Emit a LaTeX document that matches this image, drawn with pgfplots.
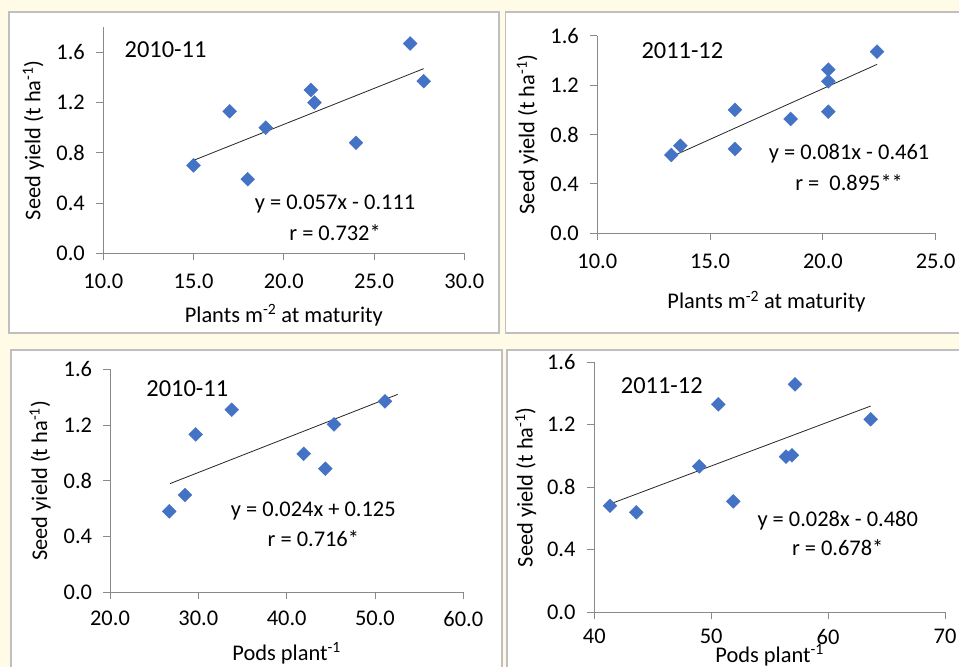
\documentclass[border=0pt]{standalone}
\usepackage{fontspec}
\setmainfont{Carlito}
\usepackage{pgfplots}
\pgfplotsset{compat=1.18}
\definecolor{bg}{RGB}{255,251,230}
\definecolor{framec}{RGB}{191,191,191}
\definecolor{axgray}{RGB}{137,137,137}
\definecolor{mblue}{RGB}{68,114,196}
\newcommand{\fs}{\fontsize{22.5}{27}\selectfont}
\newcommand{\ft}{\fontsize{24.5}{29}\selectfont}
\pgfplotsset{
  panel/.style={
    scale only axis,
    anchor=south west,
    axis x line=bottom, axis y line=left,
    axis line style={-, draw=axgray, line width=0.9bp},
    every tick/.style={draw=axgray, line width=0.9bp},
    tick align=outside, major tick length=7bp,
    ymin=0, ytick={0,0.4,0.8,1.2,1.6},
    yticklabels={0.0,0.4,0.8,1.2,1.6},
    tick label style={font=\fs},
    xticklabel shift=10.5bp,
    yticklabel shift=8bp,
    ylabel={Seed yield (t ha\textsuperscript{-1})},
    every axis y label/.style={rotate=90, anchor=center, font=\fs},
    every axis x label/.style={anchor=center, font=\fs},
    clip=false,
  },
  pts/.style={only marks, mark=square*, mark size=4.9bp,
    mark options={rotate=45, fill=mblue, draw=mblue}},
  trend/.style={no marks, draw=black!85, line width=0.8bp},
}
\begin{document}
\begin{tikzpicture}
\path[use as bounding box] (0,0) rectangle (959bp,-667bp);
\clip (0,0) rectangle (959bp,-667bp);
\fill[bg] (0,0) rectangle (959bp,-667bp);
\filldraw[fill=white, draw=framec, line width=1.5bp] (9bp,-12bp) rectangle (499bp,-333bp);
\filldraw[fill=white, draw=framec, line width=1.5bp] (505.5bp,-12bp) rectangle (975bp,-333bp);
\filldraw[fill=white, draw=framec, line width=1.5bp] (11bp,-350bp) rectangle (502bp,-690bp);
\filldraw[fill=white, draw=framec, line width=1.5bp] (507bp,-350bp) rectangle (975bp,-690bp);

% Panel 1
\begin{axis}[panel, at={(103.3bp,-253.3bp)}, width=361bp, height=226.1bp,
  xmin=10, xmax=30, ymax=1.8,
  xtick={10,15,20,25,30}, xticklabels={10.0,15.0,20.0,25.0,30.0},
  xlabel={Plants m\textsuperscript{-2} at maturity},
  xlabel style={at={(axis description cs:0.5,-0.2729)}},
  ylabel style={at={(axis description cs:-0.1939,0.5)}}]
\addplot[pts] coordinates {(15.0,0.70) (17.0,1.13) (18.0,0.59) (19.0,1.00) (21.5,1.30) (21.7,1.20) (24.0,0.88) (27.0,1.67) (27.75,1.37)};
\addplot[trend] coordinates {(15.0,0.74) (27.75,1.47)};
\node[font=\ft] at (axis cs:13.45,1.619) {2010-11};
\node[font=\fs] at (axis cs:22.84,0.392) {y = 0.057x - 0.111};
\node[font=\fs] at (axis cs:22.84,0.162) {r = 0.732*};
\end{axis}

% Panel 2
\begin{axis}[panel, at={(597.3bp,-233.3bp)}, width=338.4bp, height=197.6bp,
  xmin=10, xmax=25, ymax=1.6,
  xtick={10,15,20,25}, xticklabels={10.0,15.0,20.0,25.0},
  xlabel={Plants m\textsuperscript{-2} at maturity},
  xlabel style={at={(axis description cs:0.5,-0.3462)}},
  ylabel style={at={(axis description cs:-0.2069,0.5)}}]
\addplot[pts] coordinates {(13.28,0.634) (13.68,0.709) (16.10,1.00) (16.10,0.683) (18.57,0.926) (20.24,1.325) (20.24,1.231) (20.24,0.985) (22.40,1.471)};
\addplot[trend] coordinates {(13.28,0.62) (22.4,1.368)};
\node[font=\ft] at (axis cs:13.77,1.479) {2011-12};
\node[font=\fs] at (axis cs:21.16,0.642) {y = 0.081x - 0.461};
\node[font=\fs] at (axis cs:21.16,0.41) {r =\ \ 0.895**};
\end{axis}

% Panel 3
\begin{axis}[panel, at={(110bp,-592.3bp)}, width=353.3bp, height=223bp,
  xmin=20, xmax=60, ymax=1.6,
  xtick={20,30,40,50,60}, xticklabels={20.0,30.0,40.0,50.0,60.0},
  xticklabel shift=8.2bp, yticklabel shift=7.4bp,
  xlabel={Pods plant\textsuperscript{-1}},
  xlabel style={at={(axis description cs:0.5,-0.2735)}},
  ylabel style={at={(axis description cs:-0.1981,0.5)}}]
\addplot[pts] coordinates {(26.71,0.581) (28.49,0.698) (29.70,1.133) (33.78,1.310) (41.93,0.994) (44.38,0.887) (45.36,1.205) (51.13,1.370)};
\addplot[trend] coordinates {(26.8,0.78) (52.57,1.42)};
\node[font=\ft] at (axis cs:28.75,1.463) {2010-11};
\node[font=\fs] at (axis cs:43.02,0.581) {y = 0.024x + 0.125};
\node[font=\fs] at (axis cs:43.02,0.387) {r = 0.716*};
\end{axis}

% Panel 4
\begin{axis}[panel, at={(594.3bp,-612.3bp)}, width=350.7bp, height=250bp,
  xmin=40, xmax=70, ymax=1.6,
  xtick={40,50,60,70}, xticklabels={40,50,60,70},
  xticklabel shift=6.5bp, yticklabel shift=8.4bp,
  xlabel={Pods plant\textsuperscript{-1}},
  xlabel style={at={(axis description cs:0.5,-0.1708)}},
  ylabel style={at={(axis description cs:-0.1956,0.5)}}]
\addplot[pts] coordinates {(41.34,0.682) (43.59,0.640) (48.98,0.934) (50.61,1.331) (51.89,0.710) (56.40,0.996) (56.91,1.005) (57.17,1.459) (63.64,1.235)};
\addplot[trend] coordinates {(41.34,0.693) (63.64,1.320)};
\node[font=\ft] at (axis cs:45.77,1.450) {2011-12};
\node[font=\fs] at (axis cs:60.82,0.586) {y = 0.028x - 0.480};
\node[font=\fs] at (axis cs:60.82,0.413) {r = 0.678*};
\end{axis}
\end{tikzpicture}
\end{document}
